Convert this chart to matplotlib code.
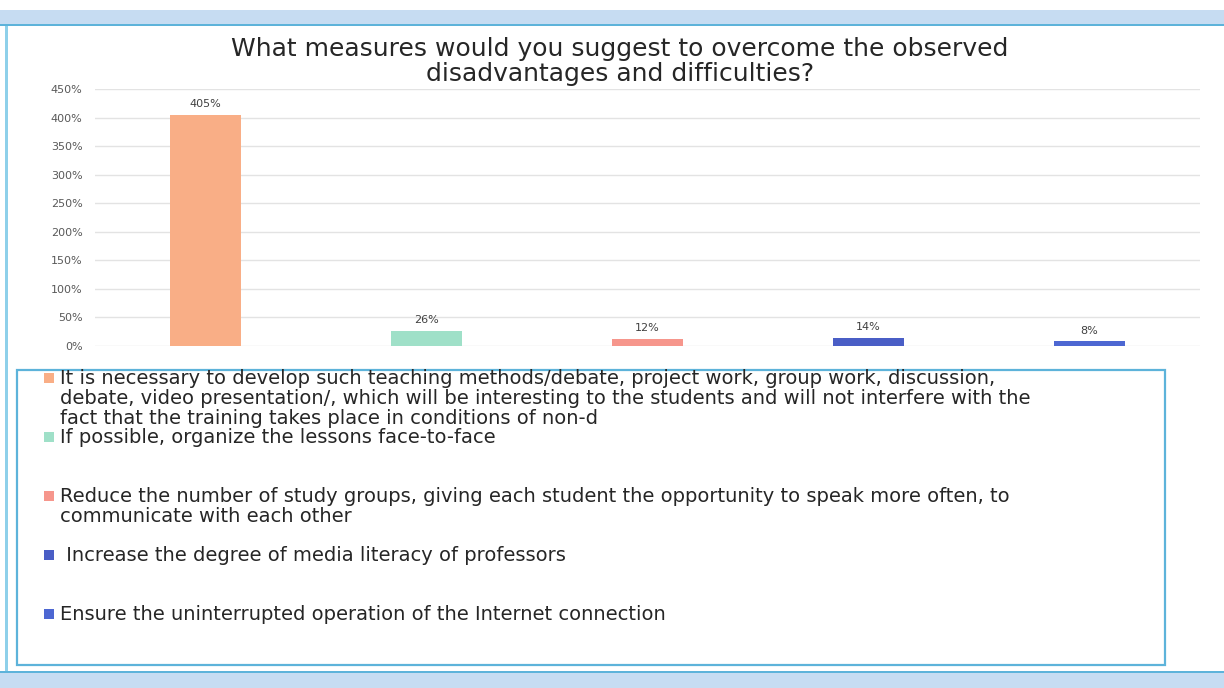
import numpy as np
from matplotlib import pyplot as plt
from matplotlib.patches import Rectangle

#======================================================================================================
# Chart data
title = 'What measures would you suggest to overcome the observed\ndisadvantages and difficulties?'
values = [4.05, 0.26, 0.12, 0.14, 0.08]
labels = ['It is necessary to develop such teaching methods/debate, project work, group work, discussion,\n'
          'debate, video presentation/, which will be interesting to the students and will not interfere with the\n'
          'fact that the training takes place in conditions of non-d',
          'If possible, organize the lessons face-to-face',
          'Reduce the number of study groups, giving each student the opportunity to speak more often, to\n'
          'communicate with each other',
          ' Increase the degree of media literacy of professors',
          'Ensure the uninterrupted operation of the Internet connection']
colors = ['#F9AE86', '#9FE0C8', '#F6968C', '#4A5EC6', '#4D67D2']
y_ticks = np.arange(0, 4.51, 0.5)

W, H = 1224, 688

#======================================================================================================

def px(x, y):
    # pixel coords (top-left origin) -> figure fraction
    return x / W, 1 - y / H


def draw_frame(fig):
    band = '#C6DCF2'
    line = '#5DB3DA'
    fig.patches.append(Rectangle((0, 1 - 24 / H), 1, 14 / H, transform=fig.transFigure,
                                 facecolor=band, edgecolor='none', zorder=0))
    fig.patches.append(Rectangle((0, 1 - 26 / H), 1, 2 / H, transform=fig.transFigure,
                                 facecolor=line, edgecolor='none', zorder=0))
    fig.patches.append(Rectangle((0, 0), 1, 15 / H, transform=fig.transFigure,
                                 facecolor=band, edgecolor='none', zorder=0))
    fig.patches.append(Rectangle((0, 15 / H), 1, 2 / H, transform=fig.transFigure,
                                 facecolor=line, edgecolor='none', zorder=0))
    fig.patches.append(Rectangle((5 / W, 17 / H), 2.5 / W, (688 - 17 - 26) / H, transform=fig.transFigure,
                                 facecolor='#8ED0EA', edgecolor='none', zorder=0))


def draw_chart(fig):
    ax = fig.add_axes([95 / W, (H - 346) / H, 1105 / W, (346 - 89) / H])
    x = np.arange(len(values))
    ax.bar(x, values, width=0.32, color=colors, zorder=3)
    for xi, v in zip(x, values):
        ax.text(xi, v + 0.1, f'{round(v * 100)}%', ha='center', va='bottom',
                fontsize=8, color='#404040')
    ax.set_xlim(-0.5, len(values) - 0.5)
    ax.set_ylim(0, 4.5)
    ax.set_yticks(y_ticks)
    ax.set_yticklabels([f'{round(t * 100)}%' for t in y_ticks], fontsize=8, color='#595959')
    ax.set_xticks([])
    ax.tick_params(axis='y', length=0, pad=9)
    ax.grid(axis='y', color='#E3E3E3', linewidth=1, zorder=0)
    for s in ax.spines.values():
        s.set_visible(False)
    fig.text(620 / W, 1 - 61.5 / H, title, ha='center', va='center', fontsize=18,
             color='#262626', linespacing=1.1)


def draw_legend(fig):
    x0, y0 = px(17, 665)
    x1, y1 = px(1165, 370)
    fig.patches.append(Rectangle((x0, y0), x1 - x0, y1 - y0, transform=fig.transFigure,
                                 facecolor='white', edgecolor='#5DB3DA', linewidth=1.6, zorder=1))
    for i, (lab, col) in enumerate(zip(labels, colors)):
        ytop = 378 + 59 * i
        mx, my = px(44, ytop + 5)
        fig.patches.append(Rectangle((mx, my), 10 / W, 10 / H, transform=fig.transFigure,
                                     facecolor=col, edgecolor='none', zorder=2))
        tx, ty = px(60, ytop - 9)
        fig.text(tx, ty, lab, ha='left', va='top', fontsize=14, color='#262626',
                 linespacing=1.08, zorder=3)


def main():
    fig = plt.figure(figsize=(W / 100, H / 100), dpi=100)
    draw_frame(fig)
    draw_chart(fig)
    draw_legend(fig)
    fig.savefig('out.png', dpi=100)
    return


if __name__ == "__main__":
    main()
